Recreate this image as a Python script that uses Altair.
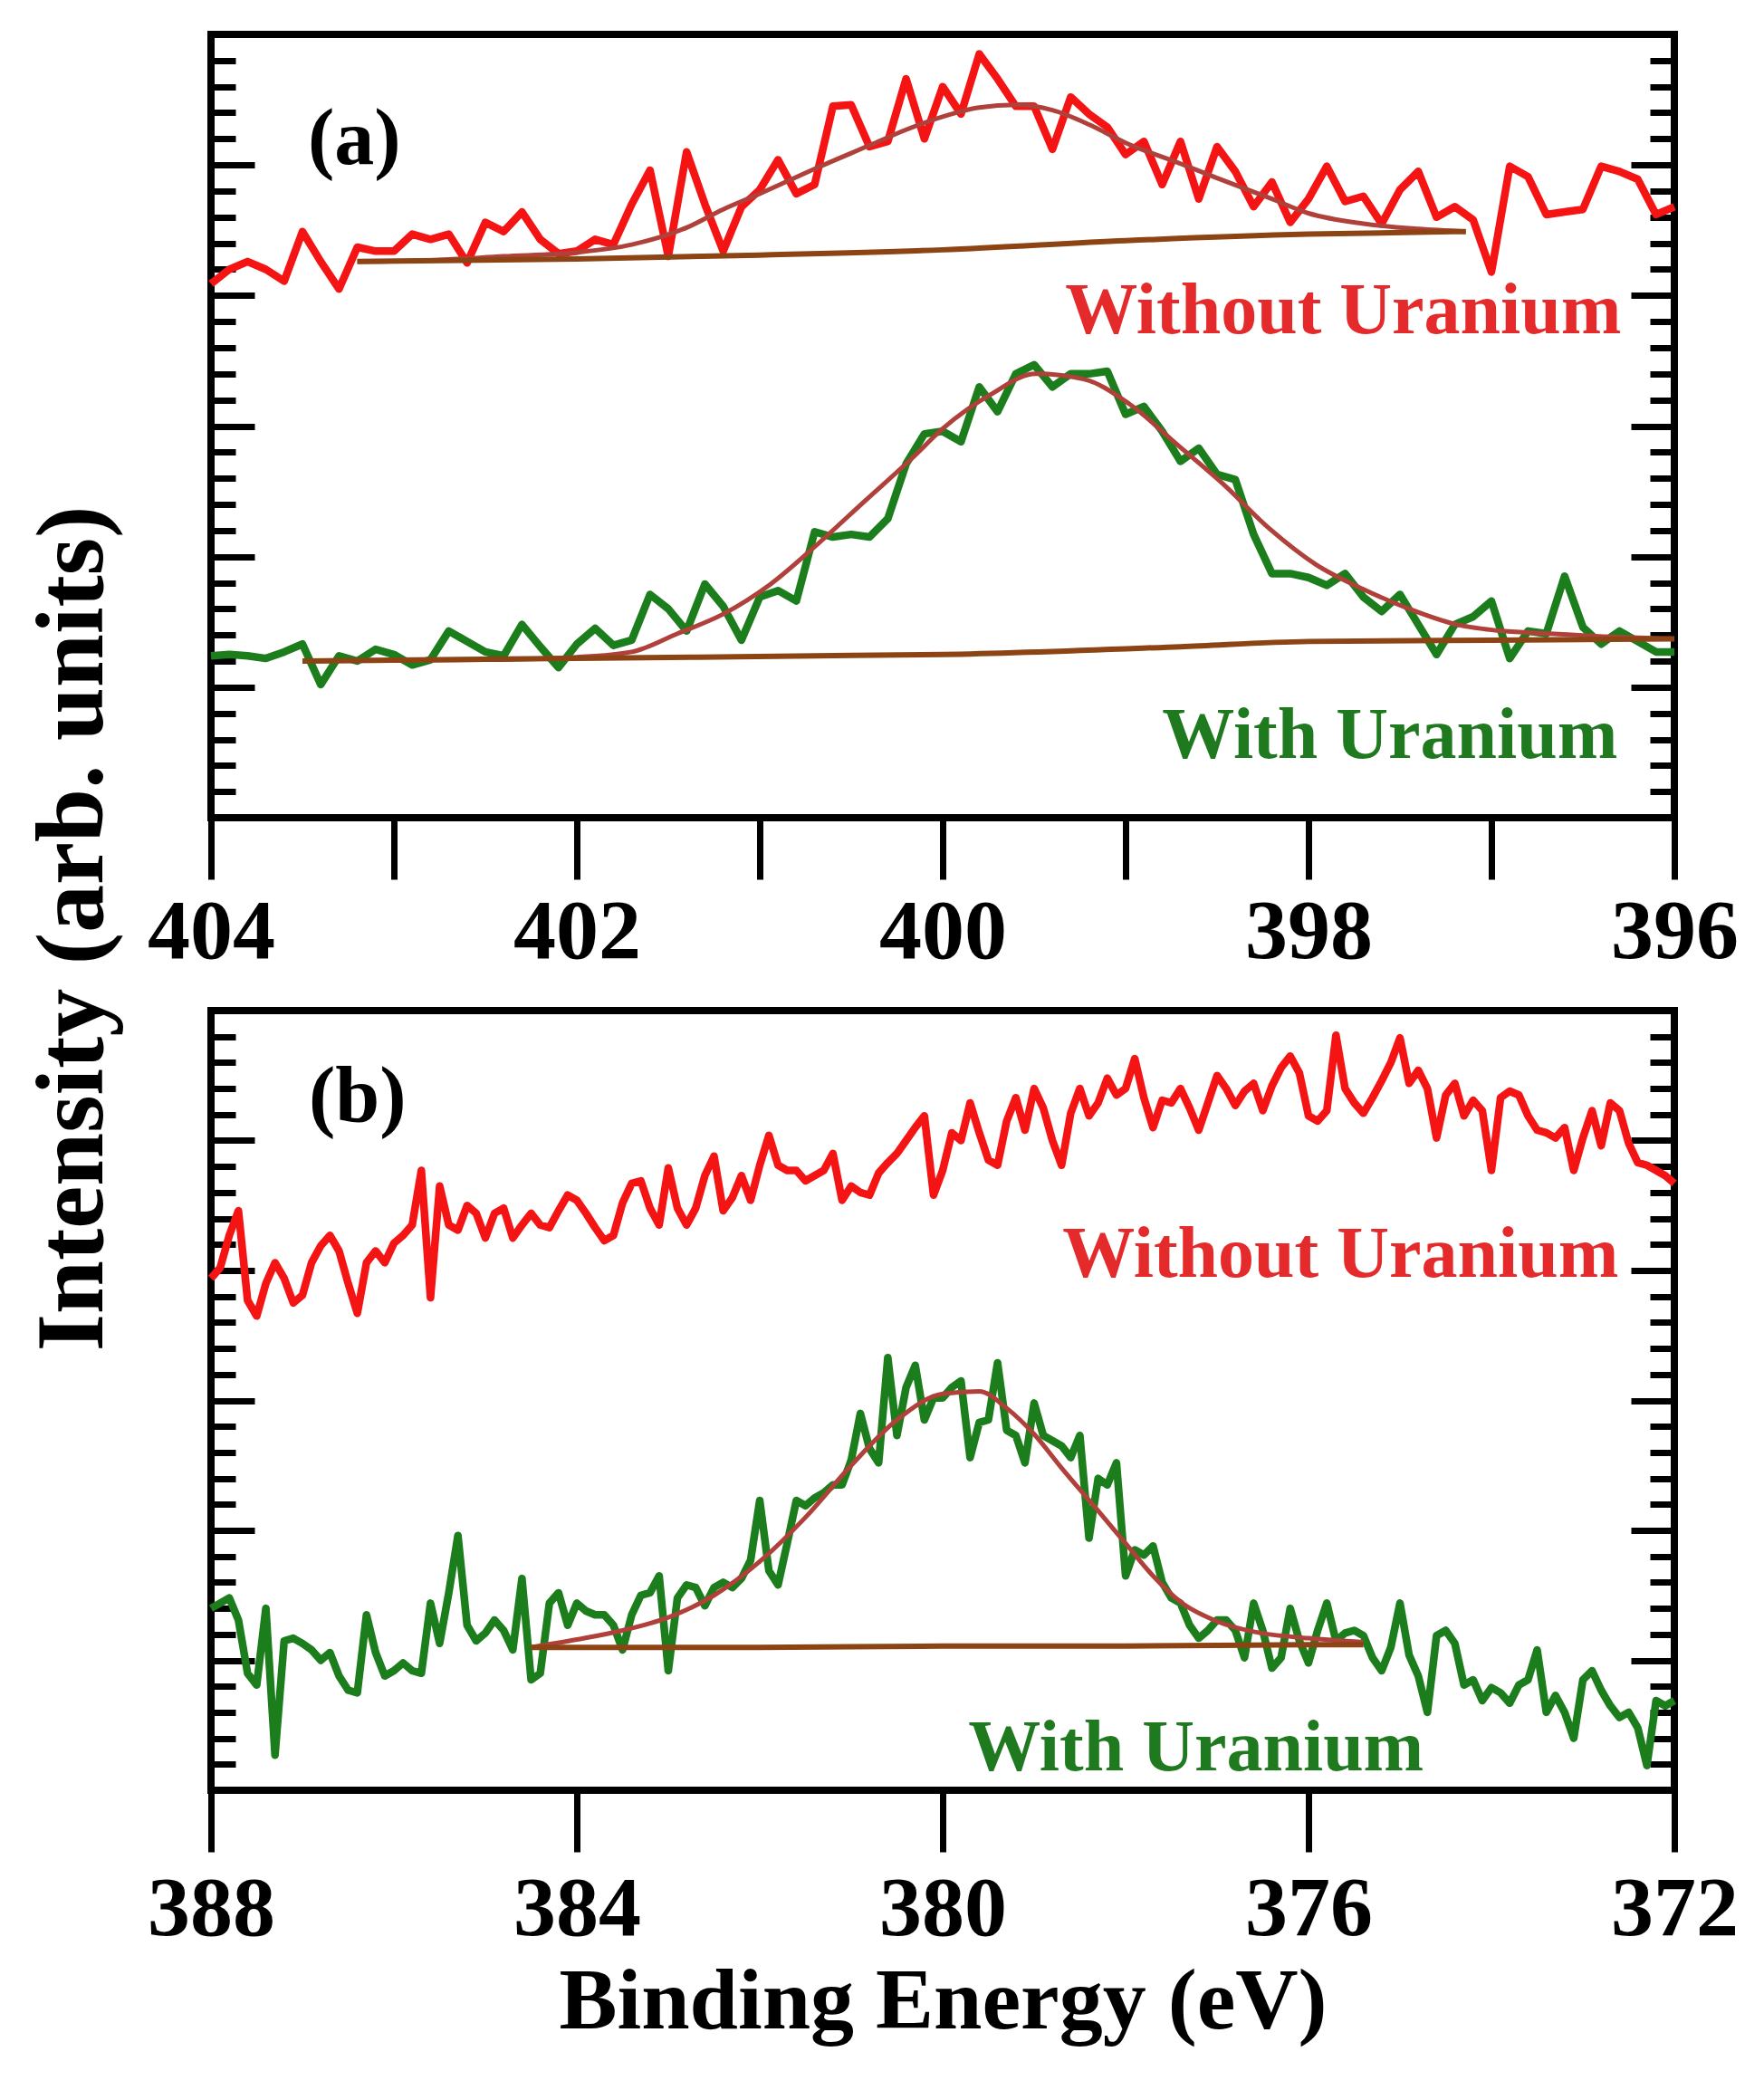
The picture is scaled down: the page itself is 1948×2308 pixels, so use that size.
import altair as alt
import numpy as np
import pandas as pd

# ---------------- data: panel (a) N 1s, 404 -> 396 eV ----------------
energy_a = np.round(np.arange(404.0, 395.95, -0.1), 2)
without_a = [4.09, 4.20, 4.26, 4.20, 4.11, 4.49, 4.26, 4.05, 4.37, 4.34,
             4.34, 4.47, 4.43, 4.47, 4.25, 4.56, 4.49, 4.64, 4.43, 4.32,
             4.34, 4.43, 4.39, 4.70, 4.96, 4.30, 5.10, 4.70, 4.34, 4.68,
             4.81, 5.04, 4.78, 4.85, 5.45, 5.46, 5.14, 5.18, 5.66, 5.20,
             5.60, 5.39, 5.85, 5.66, 5.45, 5.45, 5.12, 5.52, 5.39, 5.29,
             5.08, 5.18, 4.85, 5.18, 4.74, 5.14, 4.95, 4.68, 4.87, 4.56,
             4.74, 4.99, 4.72, 4.76, 4.55, 4.81, 4.95, 4.60, 4.68, 4.58,
             4.18, 4.99, 4.91, 4.62, 4.64, 4.66, 4.99, 4.95, 4.89, 4.62, 4.68]
with_a = [1.24, 1.25, 1.24, 1.22, 1.27, 1.33, 1.02, 1.24, 1.20, 1.29,
          1.25, 1.17, 1.21, 1.43, 1.35, 1.27, 1.24, 1.48, 1.31, 1.15,
          1.33, 1.45, 1.32, 1.36, 1.71, 1.60, 1.43, 1.79, 1.62, 1.36,
          1.69, 1.74, 1.66, 2.19, 2.15, 2.17, 2.15, 2.29, 2.71, 2.94,
          2.96, 2.88, 3.30, 3.11, 3.40, 3.47, 3.30, 3.40, 3.40, 3.42,
          3.09, 3.15, 2.96, 2.73, 2.83, 2.63, 2.59, 2.17, 1.87, 1.87,
          1.84, 1.78, 1.87, 1.69, 1.58, 1.71, 1.48, 1.25, 1.48, 1.54,
          1.66, 1.22, 1.43, 1.41, 1.85, 1.46, 1.33, 1.43, 1.35, 1.27, 1.27]

fit_wo_a_x = [403.2, 402.8, 402.4, 402.0, 401.7, 401.4, 401.2, 401.0, 400.7, 400.4,
              400.2, 400.0, 399.8, 399.6, 399.4, 399.2, 399.0, 398.7, 398.5, 398.2,
              398.0, 397.7, 397.4, 397.14]
fit_wo_a_y = [4.26, 4.27, 4.30, 4.33, 4.39, 4.52, 4.66, 4.78, 4.97, 5.15,
              5.27, 5.37, 5.44, 5.46, 5.42, 5.31, 5.17, 5.01, 4.90, 4.74,
              4.63, 4.55, 4.51, 4.49]
base_wo_a_x = [403.2, 402.0, 401.0, 400.0, 399.0, 398.0, 397.14]
base_wo_a_y = [4.26, 4.28, 4.31, 4.35, 4.42, 4.47, 4.49]

fit_w_a_x = [403.5, 402.5, 402.0, 401.7, 401.45, 401.2, 400.94, 400.68, 400.43, 400.17,
             400.0, 399.74, 399.49, 399.23, 398.98, 398.72, 398.47, 398.21, 397.96, 397.7,
             397.45, 397.19, 396.94, 396.68, 396.43, 396.0]
fit_w_a_y = [1.20, 1.21, 1.23, 1.27, 1.41, 1.56, 1.79, 2.10, 2.42, 2.75,
             2.98, 3.24, 3.40, 3.36, 3.17, 2.86, 2.56, 2.21, 1.94, 1.75,
             1.60, 1.48, 1.43, 1.41, 1.39, 1.37]
base_w_a_x = [403.5, 402.0, 400.7, 400.0, 398.7, 398.0, 397.0, 396.0]
base_w_a_y = [1.20, 1.22, 1.24, 1.25, 1.31, 1.35, 1.36, 1.37]

# ---------------- data: panel (b) U 4f region, 388 -> 372 eV ----------------
energy_b = np.round(np.arange(388.0, 371.95, -0.1), 2)
without_b = [3.94, 4.02, 4.27, 4.46, 3.77, 3.65, 3.90, 4.06, 3.94, 3.75,
             3.81, 4.06, 4.19, 4.27, 4.15, 3.90, 3.67, 4.06, 4.15, 4.06,
             4.21, 4.27, 4.35, 4.77, 3.79, 4.65, 4.35, 4.31, 4.50, 4.44,
             4.25, 4.44, 4.48, 4.25, 4.35, 4.44, 4.35, 4.33, 4.46, 4.58,
             4.54, 4.44, 4.33, 4.23, 4.27, 4.52, 4.67, 4.69, 4.48, 4.35,
             4.79, 4.48, 4.35, 4.48, 4.73, 4.88, 4.46, 4.56, 4.73, 4.54,
             4.81, 5.04, 4.81, 4.77, 4.77, 4.69, 4.73, 4.77, 4.90, 4.54,
             4.65, 4.60, 4.58, 4.75, 4.83, 4.90, 5.00, 5.10, 5.19, 4.58,
             4.77, 5.06, 5.00, 5.29, 5.06, 4.85, 4.81, 5.15, 5.33, 5.08,
             5.40, 5.25, 5.00, 4.81, 5.21, 5.40, 5.19, 5.29, 5.48, 5.35,
             5.40, 5.63, 5.33, 5.10, 5.31, 5.29, 5.40, 5.25, 5.08, 5.29,
             5.50, 5.40, 5.27, 5.38, 5.44, 5.23, 5.42, 5.56, 5.65, 5.52,
             5.19, 5.15, 5.23, 5.81, 5.40, 5.29, 5.21, 5.33, 5.46, 5.60,
             5.79, 5.44, 5.54, 5.40, 5.02, 5.35, 5.44, 5.19, 5.31, 5.23,
             4.77, 5.33, 5.38, 5.35, 5.19, 5.08, 5.06, 5.02, 5.10, 4.77,
             5.02, 5.23, 4.96, 5.29, 5.23, 4.98, 4.83, 4.81, 4.77, 4.73, 4.67]
with_b = [1.40, 1.44, 1.48, 1.31, 0.90, 0.81, 1.40, 0.27, 1.15, 1.17,
          1.13, 1.08, 1.00, 1.06, 0.88, 0.77, 0.75, 1.35, 1.06, 0.88,
          0.92, 0.98, 0.92, 0.90, 1.44, 1.13, 1.52, 1.96, 1.27, 1.15,
          1.21, 1.31, 1.23, 1.08, 1.63, 0.85, 0.90, 1.44, 1.52, 1.27,
          1.44, 1.38, 1.35, 1.35, 1.27, 1.08, 1.35, 1.50, 1.52, 1.65,
          0.92, 1.48, 1.58, 1.56, 1.42, 1.56, 1.60, 1.56, 1.63, 1.77,
          2.23, 1.69, 1.58, 1.90, 2.23, 2.19, 2.25, 2.29, 2.35, 2.35,
          2.54, 2.90, 2.63, 2.52, 3.33, 2.73, 3.10, 3.27, 2.85, 3.02,
          3.02, 3.10, 3.15, 2.56, 2.83, 2.85, 3.29, 2.77, 2.73, 2.52,
          2.98, 2.73, 2.69, 2.65, 2.56, 2.73, 1.94, 2.40, 2.35, 2.52,
          1.65, 1.85, 1.81, 1.88, 1.60, 1.48, 1.44, 1.27, 1.17, 1.23,
          1.31, 1.31, 1.23, 1.02, 1.44, 1.23, 0.94, 1.02, 1.40, 1.15,
          0.98, 1.23, 1.44, 1.15, 1.21, 1.23, 1.19, 1.02, 0.92, 1.10,
          1.44, 1.04, 0.88, 0.60, 1.19, 1.23, 1.13, 0.81, 0.85, 0.69,
          0.79, 0.75, 0.67, 0.81, 0.85, 1.08, 0.60, 0.73, 0.60, 0.40,
          0.85, 0.92, 0.77, 0.65, 0.56, 0.60, 0.48, 0.19, 0.69, 0.65, 0.69]

fit_w_b_x = [384.5, 384.0, 383.5, 383.0, 382.5, 382.0, 381.5, 381.0, 380.5, 380.0,
             379.6, 379.3, 379.0, 378.7, 378.3, 378.0, 377.7, 377.4, 377.0, 376.6,
             376.0, 375.4]
fit_w_b_y = [1.10, 1.16, 1.23, 1.33, 1.50, 1.76, 2.10, 2.50, 2.85, 3.05,
             3.07, 2.94, 2.74, 2.48, 2.15, 1.90, 1.65, 1.45, 1.30, 1.22,
             1.17, 1.14]
base_w_b_x = [384.5, 382.0, 380.0, 378.0, 376.0, 375.4]
base_w_b_y = [1.10, 1.10, 1.11, 1.11, 1.12, 1.12]

# ---------------- annotations ----------------
series_names = ["Without Uranium", "With Uranium"]
lab_a_x, lab_a_y = [396.29, 396.31], [3.71, 0.46]
lab_b_x, lab_b_y = [372.61, 374.74], [3.95, 0.15]
panel_tags = ["(a)", "(b)"]
tag_x = [403.47, 386.93]
tag_y = [5.01, 5.14]

# ---------------- styling ----------------
FONT = "Liberation Serif"
RED, GREEN = "#f41414", "#1b7d1b"
RED_TXT, GREEN_TXT = "#e42a2a", "#1f7a1f"
FIT, BASE = "#b0403a", "#8c4414"
W = 1616
MAJOR = [1, 2, 3, 4, 5]
MINOR = [round(v, 1) for v in np.arange(0.2, 6.0, 0.2) if abs(v - round(v)) > 1e-6]


def tick_axis(orient, values, size):
    return alt.Axis(orient=orient, offset=-W, values=values, tickSize=size, tickWidth=7,
                    tickColor="black", tickCap="butt", labels=False, domain=False,
                    grid=False, title=None)


def panel(energy, wo, w, fits, bases, lab_x, lab_y, tag, tx, ty, xdom, xvals, label_expr,
          height, ytitle, xtitle, label_pad):
    xs = alt.Scale(domain=xdom, reverse=True, nice=False, zero=False)
    ys = alt.Scale(domain=[0, 6], nice=False, zero=False)

    df = pd.concat([
        pd.DataFrame({"E": energy, "I": wo, "s": series_names[0]}),
        pd.DataFrame({"E": energy, "I": w, "s": series_names[1]}),
    ])
    df_fit = pd.concat([pd.DataFrame({"E": fx, "I": fy, "s": n}) for (fx, fy), n in fits])
    df_base = pd.concat([pd.DataFrame({"E": bx, "I": by, "s": n}) for (bx, by), n in bases])

    if ytitle:
        yaxis = alt.Axis(orient="left", ticks=False, labels=False, domain=False, grid=False,
                         title=ytitle, titleFont=FONT, titleFontSize=106, titleFontWeight="bold",
                         titleColor="black", titleX=-99, titleY=987, titleAngle=270,
                         titleAlign="center", titleBaseline="bottom")
    else:
        yaxis = None

    xaxis = alt.Axis(values=xvals, labelExpr=label_expr, tickSize=68, tickWidth=7,
                     tickColor="black", tickCap="butt", domain=False, grid=False,
                     labelFont=FONT, labelFontSize=94, labelFontWeight="bold",
                     labelColor="black", labelPadding=label_pad, labelFlush=False,
                     labelOverlap=False, title=xtitle if xtitle else None,
                     titleFont=FONT, titleFontSize=96, titleFontWeight="bold",
                     titleColor="black", titleY=186, titleBaseline="top")

    data_layer = alt.Chart(df).mark_line(strokeWidth=8.5, strokeJoin="round").encode(
        x=alt.X("E:Q", scale=xs, axis=xaxis),
        y=alt.Y("I:Q", scale=ys, axis=yaxis),
        color=alt.Color("s:N", scale=alt.Scale(domain=series_names, range=[RED, GREEN]),
                        legend=None),
        order=alt.Order("E:Q", sort="descending"),
    )
    fit_layer = alt.Chart(df_fit).mark_line(strokeWidth=5, color=FIT, interpolate="monotone").encode(
        x=alt.X("E:Q", scale=xs, axis=None),
        y=alt.Y("I:Q", scale=ys, axis=tick_axis("right", MAJOR, 48)),
        detail="s:N",
    )
    base_layer = alt.Chart(df_base).mark_line(strokeWidth=6, color=BASE, interpolate="monotone").encode(
        x=alt.X("E:Q", scale=xs, axis=None),
        y=alt.Y("I:Q", scale=ys, axis=tick_axis("right", MINOR, 27)),
        detail="s:N",
    )
    txt_kw = dict(font=FONT, fontSize=80, fontWeight="bold", align="right", baseline="alphabetic")
    red_txt = alt.Chart(pd.DataFrame({"E": [lab_x[0]], "I": [lab_y[0]], "t": [series_names[0]]})).mark_text(
        color=RED_TXT, **txt_kw).encode(
        x=alt.X("E:Q", scale=xs, axis=None),
        y=alt.Y("I:Q", scale=ys, axis=tick_axis("left", MAJOR, 48)),
        text="t:N",
    )
    green_txt = alt.Chart(pd.DataFrame({"E": [lab_x[1]], "I": [lab_y[1]], "t": [series_names[1]]})).mark_text(
        color=GREEN_TXT, **txt_kw).encode(
        x=alt.X("E:Q", scale=xs, axis=None),
        y=alt.Y("I:Q", scale=ys, axis=tick_axis("left", MINOR, 27)),
        text="t:N",
    )
    tag_layer = alt.Chart(pd.DataFrame({"E": [tx], "I": [ty], "t": [tag]})).mark_text(
        font=FONT, fontSize=88, fontWeight="bold", align="left", baseline="alphabetic",
        color="black").encode(
        x=alt.X("E:Q", scale=xs, axis=None),
        y=alt.Y("I:Q", scale=ys, axis=None),
        text="t:N",
    )
    return alt.layer(data_layer, fit_layer, base_layer, red_txt, green_txt, tag_layer).resolve_axis(
        x="independent", y="independent").properties(width=W, height=height)


panel_a = panel(
    energy_a, without_a, with_a,
    [((fit_wo_a_x, fit_wo_a_y), series_names[0]), ((fit_w_a_x, fit_w_a_y), series_names[1])],
    [((base_wo_a_x, base_wo_a_y), series_names[0]), ((base_w_a_x, base_w_a_y), series_names[1])],
    lab_a_x, lab_a_y, panel_tags[0], tag_x[0], tag_y[0],
    [396, 404], [404, 403, 402, 401, 400, 399, 398, 397, 396],
    "datum.value % 2 == 0 ? format(datum.value, 'd') : ''",
    865, "Intensity (arb. units)", None, 12)

panel_b = panel(
    energy_b, without_b, with_b,
    [((fit_w_b_x, fit_w_b_y), series_names[1])],
    [((base_w_b_x, base_w_b_y), series_names[1])],
    lab_b_x, lab_b_y, panel_tags[1], tag_x[1], tag_y[1],
    [372, 388], [388, 384, 380, 376, 372],
    "format(datum.value, 'd')",
    861, None, "Binding Energy (eV)", 17)

chart = alt.vconcat(panel_a, panel_b, spacing=213, bounds="flush").properties(
    padding={"left": 14, "top": 26, "right": 10, "bottom": 10},
    background="white",
).configure_view(stroke="black", strokeWidth=8)

chart.save("out.html", embed_options={"renderer": "svg", "actions": False})
